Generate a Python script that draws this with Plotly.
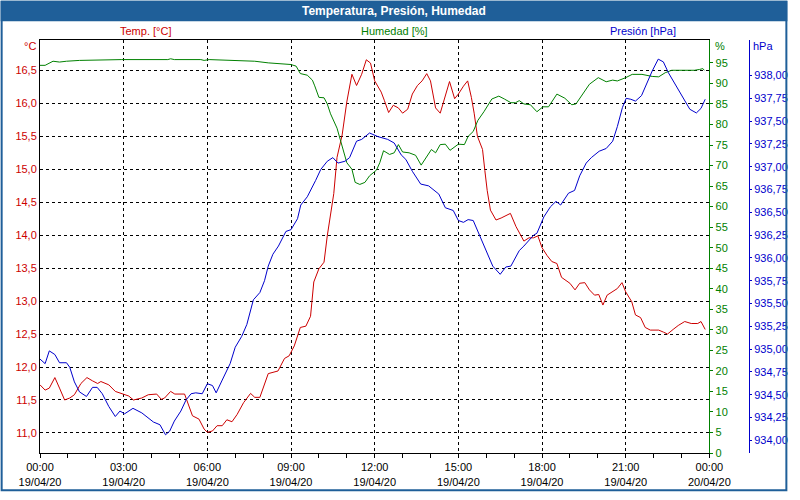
import pandas as pd
import plotly.graph_objects as go

# ---------------- data (minutes after 19/04/20 00:00) ----------------
temp_min = [0, 11, 20, 32, 42, 53, 64, 74, 88, 101,
            113, 124, 131, 148, 162, 180, 191, 201, 219, 233,
            251, 261, 268, 281, 290, 311, 328, 342, 353, 360,
            371, 381, 392, 402, 413, 424, 438, 453, 462, 473,
            491, 512, 526, 536, 547, 560, 572, 582, 589, 600,
            611, 618, 627, 632, 639, 650, 660, 671, 681, 692,
            702, 711, 720, 734, 741, 750, 760, 771, 780, 791,
            801, 812, 822, 832, 840, 851, 861, 870, 881, 892,
            900, 911, 920, 928, 934, 941, 952, 957, 962, 969,
            981, 992, 1012, 1024, 1041, 1052, 1062, 1071, 1080, 1091,
            1101, 1112, 1122, 1140, 1151, 1161, 1172, 1182, 1193, 1202,
            1211, 1220, 1232, 1242, 1252, 1260, 1273, 1281, 1292, 1302,
            1313, 1331, 1341, 1350, 1362, 1373, 1387, 1401, 1415, 1422,
            1431]
temp_val = [11.73, 11.65, 11.68, 11.84, 11.68, 11.50, 11.53, 11.58, 11.75, 11.84,
            11.79, 11.75, 11.78, 11.73, 11.63, 11.58, 11.56, 11.50, 11.53, 11.58,
            11.59, 11.51, 11.53, 11.63, 11.59, 11.59, 11.26, 11.21, 11.06, 11.01,
            11.03, 11.11, 11.11, 11.20, 11.17, 11.28, 11.46, 11.60, 11.54, 11.54,
            11.90, 11.94, 12.13, 12.17, 12.32, 12.60, 12.62, 12.77, 13.29, 13.49,
            13.59, 13.99, 14.43, 14.63, 15.18, 15.52, 16.02, 16.44, 16.27, 16.44,
            16.66, 16.61, 16.34, 16.17, 16.04, 15.86, 15.97, 15.93, 15.85, 15.91,
            16.14, 16.27, 16.34, 16.45, 16.34, 15.93, 15.85, 16.07, 16.33, 16.07,
            16.14, 16.26, 16.34, 16.09, 15.85, 15.50, 15.30, 14.98, 14.68, 14.38,
            14.23, 14.26, 14.33, 14.13, 13.91, 13.96, 13.96, 13.99, 13.81, 13.69,
            13.60, 13.57, 13.36, 13.27, 13.17, 13.27, 13.28, 13.17, 13.09, 13.10,
            12.94, 13.09, 13.14, 13.19, 13.28, 13.14, 12.99, 12.79, 12.75, 12.60,
            12.56, 12.56, 12.53, 12.50, 12.57, 12.63, 12.69, 12.66, 12.66, 12.69,
            12.57]

pres_min = [0, 11, 20, 32, 42, 57, 64, 74, 85, 100,
            113, 123, 134, 148, 162, 172, 182, 200, 219, 244,
            258, 270, 279, 289, 303, 314, 325, 335, 349, 360,
            371, 379, 392, 409, 420, 434, 445, 459, 473, 483,
            491, 501, 513, 529, 540, 554, 561, 575, 593, 604,
            618, 630, 641, 656, 666, 681, 692, 709, 727, 748,
            762, 777, 787, 801, 819, 836, 858, 872, 889, 900,
            911, 921, 932, 946, 960, 974, 990, 1002, 1013, 1031,
            1041, 1062, 1069, 1084, 1098, 1110, 1120, 1137, 1150, 1161,
            1175, 1186, 1203, 1218, 1232, 1242, 1253, 1261, 1271, 1281,
            1294, 1306, 1317, 1330, 1341, 1352, 1366, 1380, 1398, 1412,
            1422, 1431]
pres_val = [934.89, 934.84, 934.98, 934.94, 934.85, 934.85, 934.80, 934.64, 934.53, 934.48,
            934.58, 934.58, 934.51, 934.37, 934.26, 934.32, 934.29, 934.35, 934.30, 934.20,
            934.17, 934.06, 934.10, 934.21, 934.32, 934.44, 934.51, 934.52, 934.51, 934.62,
            934.60, 934.52, 934.66, 934.84, 935.02, 935.14, 935.27, 935.54, 935.62, 935.75,
            935.91, 936.04, 936.13, 936.29, 936.31, 936.43, 936.58, 936.67, 936.85, 936.97,
            937.06, 937.10, 937.04, 937.06, 937.10, 937.28, 937.30, 937.37, 937.33, 937.30,
            937.26, 937.13, 937.08, 936.95, 936.81, 936.79, 936.70, 936.55, 936.52, 936.41,
            936.39, 936.42, 936.41, 936.24, 936.07, 935.91, 935.82, 935.90, 935.91, 936.08,
            936.13, 936.25, 936.27, 936.45, 936.56, 936.62, 936.58, 936.71, 936.74, 936.90,
            937.04, 937.10, 937.17, 937.20, 937.28, 937.44, 937.65, 937.75, 937.74, 937.72,
            937.78, 937.92, 938.05, 938.18, 938.15, 938.03, 937.91, 937.80, 937.63, 937.59,
            937.64, 937.74]

hum_min = [0, 11, 28, 42, 57, 85, 176, 275, 281, 289,
           346, 353, 364, 441, 462, 491, 526, 540, 551, 560,
           575, 586, 591, 600, 611, 618, 625, 632, 639, 646,
           653, 660, 671, 678, 688, 699, 709, 724, 731, 739,
           752, 762, 771, 780, 794, 808, 820, 833, 842, 851,
           861, 872, 882, 900, 913, 921, 932, 942, 955, 972,
           987, 999, 1013, 1023, 1031, 1041, 1055, 1069, 1082, 1094,
           1112, 1129, 1144, 1153, 1168, 1182, 1201, 1218, 1232, 1242,
           1260, 1274, 1295, 1317, 1331, 1345, 1359, 1408, 1419, 1426,
           1429]
hum_val = [94.4, 94.4, 95.4, 95.2, 95.4, 95.6, 95.8, 95.8, 96.0, 95.8,
           95.8, 95.6, 95.8, 95.6, 95.4, 95.0, 94.8, 94.6, 94.2, 92.4,
           92.0, 90.8, 89.4, 86.6, 86.5, 85.0, 82.6, 80.7, 79.1, 76.3,
           73.5, 70.7, 69.1, 65.9, 65.4, 65.9, 67.5, 68.9, 70.7, 73.6,
           72.7, 73.1, 75.1, 73.3, 73.1, 72.5, 70.1, 72.3, 73.9, 73.1,
           75.1, 75.2, 73.7, 75.2, 75.1, 77.1, 78.3, 81.0, 83.1, 86.2,
           86.9, 86.2, 85.3, 85.3, 85.8, 85.0, 84.8, 83.1, 84.3, 84.3,
           87.4, 86.4, 84.8, 85.0, 87.4, 89.8, 91.4, 90.4, 90.8, 90.6,
           91.4, 92.2, 92.2, 91.7, 91.6, 92.6, 93.2, 93.2, 93.4, 93.6,
           93.2]

temp_ticks = [11.0, 11.5, 12.0, 12.5, 13.0, 13.5, 14.0, 14.5, 15.0, 15.5, 16.0, 16.5]
hum_ticks = [0, 5, 10, 15, 20, 25, 30, 35, 40, 45, 50, 55, 60, 65, 70, 75, 80, 85, 90, 95]
pres_ticks = [934.00, 934.25, 934.50, 934.75, 935.00, 935.25, 935.50, 935.75,
              936.00, 936.25, 936.50, 936.75, 937.00, 937.25, 937.50, 937.75, 938.00]

title_text = "Temperatura, Presión, Humedad"
temp_name = "Temp. [°C]"
hum_name = "Humedad [%]"
pres_name = "Presión [hPa]"

# ---------------- styling ----------------
RED = "#cc0000"
GREEN = "#008000"
BLUE = "#0000cc"
BAR = "#1f5f99"
FONT = "Liberation Sans"

W, H = 800, 500
L, R, T, B = 40, 39, 40, 39
PW = W - L - R
PH = H - T - B


def px(x):
    return (x - L) / PW


def py(y):
    return (H - B - y) / PH


start = pd.Timestamp("2020-04-19 00:00")
end = pd.Timestamp("2020-04-20 00:00")


def times(mins):
    return start + pd.to_timedelta(mins, unit="m")


fig = go.Figure()
fig.add_trace(go.Scatter(x=times(pres_min), y=pres_val, mode="lines",
                         line=dict(color=BLUE, width=1), yaxis="y3", name=pres_name))
fig.add_trace(go.Scatter(x=times(hum_min), y=hum_val, mode="lines",
                         line=dict(color=GREEN, width=1), yaxis="y2", name=hum_name))
fig.add_trace(go.Scatter(x=times(temp_min), y=temp_val, mode="lines",
                         line=dict(color=RED, width=1), yaxis="y", name=temp_name))

xdom_end = px(720.7)

fig.update_layout(
    width=W, height=H,
    margin=dict(l=L, r=R, t=T, b=B, pad=0),
    paper_bgcolor="white", plot_bgcolor="white",
    showlegend=False, hovermode=False,
    separators=",.",
    font=dict(family=FONT, size=11, color="black"),
    xaxis=dict(
        type="date", domain=[0, xdom_end], range=[start, end],
        tick0=start, dtick=3 * 3600 * 1000,
        tickformat="%H:%M<br>%d/%m/%y",
        ticks="outside", ticklen=4, tickcolor="black",
        showline=True, linecolor="black", linewidth=1, mirror=True,
        showgrid=True, gridcolor="black", gridwidth=1, griddash="3px,3px",
        zeroline=False,
        minor=dict(dtick=3600 * 1000, ticks="outside", ticklen=4,
                   tickcolor="black", showgrid=False),
        tickfont=dict(size=11, color="black"),
    ),
    yaxis=dict(
        range=[10.696, 16.96], tickvals=temp_ticks, tickformat=".1f",
        showline=True, linecolor="black", linewidth=1,
        showgrid=True, gridcolor="black", gridwidth=1, griddash="3px,3px",
        zeroline=False, ticks="",
        tickfont=dict(size=11, color=RED),
    ),
    yaxis2=dict(
        overlaying="y", side="right", anchor="x",
        range=[0, 100.57], tickvals=hum_ticks,
        showline=True, linecolor=GREEN, linewidth=1,
        ticks="outside", ticklen=3, tickcolor=GREEN,
        showgrid=False, zeroline=False,
        tickfont=dict(size=11, color=GREEN),
    ),
    yaxis3=dict(
        overlaying="y", side="right", anchor="free", position=1.0,
        range=[933.86, 938.39], tickvals=pres_ticks, tickformat=".2f",
        showline=True, linecolor=BLUE, linewidth=1,
        ticks="outside", ticklen=2, tickcolor=BLUE,
        showgrid=False, zeroline=False,
        tickfont=dict(size=11, color=BLUE),
    ),
)

shapes = [
    dict(type="rect", xref="paper", yref="paper", layer="below",
         x0=px(0), x1=px(800), y0=py(21), y1=py(0),
         fillcolor=BAR, line=dict(width=0)),
    dict(type="rect", xref="paper", yref="paper", layer="above",
         x0=px(1), x1=px(799), y0=py(499), y1=py(1),
         fillcolor="rgba(0,0,0,0)", line=dict(color=BAR, width=2)),
]
fig.update_layout(shapes=shapes)


def ann(text, x, y, color, xanchor="center", size=11, bold=False):
    return dict(text=f"<b>{text}</b>" if bold else text,
                x=px(x), y=py(y), xref="paper", yref="paper",
                xanchor=xanchor, yanchor="middle", showarrow=False,
                font=dict(family=FONT, size=size, color=color))


fig.update_layout(annotations=[
    ann(title_text, 400, 10.5, "white", size=12, bold=True),
    ann(temp_name, 147, 31, RED),
    ann(hum_name, 401, 31, GREEN),
    ann(pres_name, 653, 31, BLUE),
    ann("°C", 38, 46, RED, xanchor="right"),
    ann("%", 724, 46, GREEN, xanchor="left"),
    ann("hPa", 763, 46, BLUE, xanchor="left"),
])

fig.write_html("out.html")
